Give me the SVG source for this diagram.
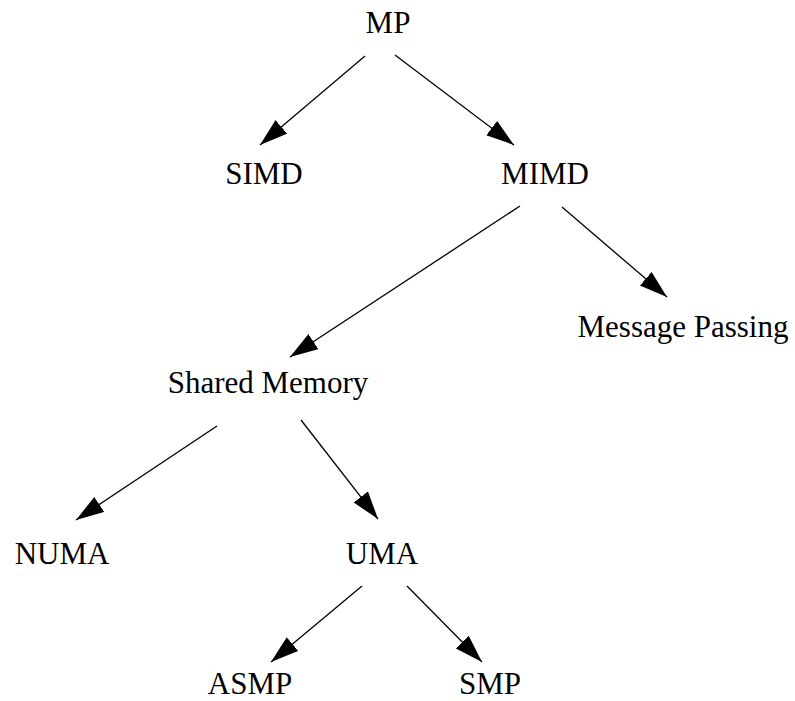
<svg xmlns="http://www.w3.org/2000/svg" width="795" height="701" viewBox="0 0 795 701">
  <style>
    .lbl { font-family: "Liberation Serif", "Times New Roman", serif; font-size: 31px; fill: #000; text-anchor: middle; }
    .edge { stroke: #000; stroke-width: 1.3; fill: none; marker-end: url(#head); }
  </style>
  <defs>
    <marker id="head" markerUnits="userSpaceOnUse" markerWidth="30" markerHeight="20" refX="28" refY="9" orient="auto" viewBox="0 0 30 20">
      <path d="M0,0 L28,9 L0,18 Z" fill="#000"/>
    </marker>
  </defs>
  <rect width="795" height="701" fill="#fff"/>
  <g id="connectors">
    <line class="edge" x1="365" y1="56" x2="260" y2="145"/>
    <line class="edge" x1="395" y1="55" x2="514" y2="145"/>
    <line class="edge" x1="520" y1="206" x2="290" y2="357"/>
    <line class="edge" x1="562" y1="207" x2="667" y2="297"/>
    <line class="edge" x1="217" y1="426" x2="76" y2="520"/>
    <line class="edge" x1="301" y1="420" x2="378" y2="519"/>
    <line class="edge" x1="362" y1="586" x2="271" y2="662"/>
    <line class="edge" x1="407" y1="586" x2="482" y2="662"/>
  </g>
  <g id="node-mp"><text class="lbl" x="388" y="33">MP</text></g>
  <g id="node-simd"><text class="lbl" x="264" y="184">SIMD</text></g>
  <g id="node-mimd"><text class="lbl" x="545" y="184">MIMD</text></g>
  <g id="node-message-passing"><text class="lbl" x="683" y="337">Message Passing</text></g>
  <g id="node-shared-memory"><text class="lbl" x="268" y="393">Shared Memory</text></g>
  <g id="node-numa"><text class="lbl" x="62" y="564">NUMA</text></g>
  <g id="node-uma"><text class="lbl" x="382" y="564">UMA</text></g>
  <g id="node-asmp"><text class="lbl" x="250" y="694">ASMP</text></g>
  <g id="node-smp"><text class="lbl" x="490" y="694">SMP</text></g>
</svg>
